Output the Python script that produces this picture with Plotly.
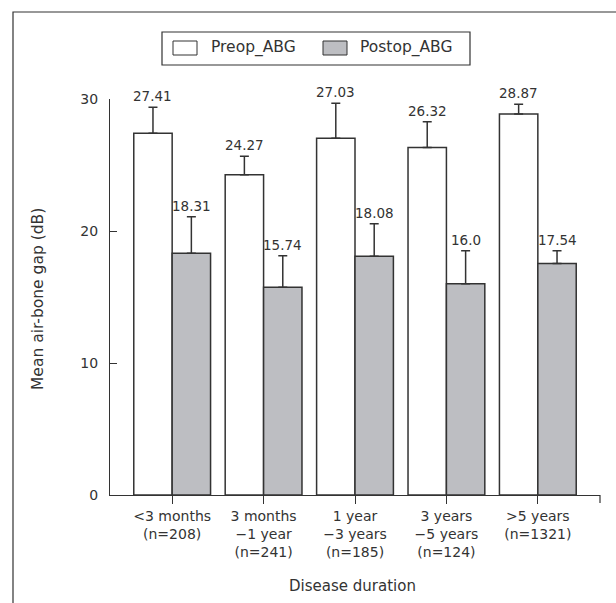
import plotly.graph_objects as go

# Disease-duration groups and mean air-bone gap (dB) with SD error
categories = [
    "&lt;3 months<br>(n=208)",
    "3 months<br>\u22121 year<br>(n=241)",
    "1 year<br>\u22123 years<br>(n=185)",
    "3 years<br>\u22125 years<br>(n=124)",
    "&gt;5 years<br>(n=1321)",
]
preop_abg = [27.41, 24.27, 27.03, 26.32, 28.87]
postop_abg = [18.31, 15.74, 18.08, 16.0, 17.54]
preop_err = [1.96, 1.39, 2.64, 1.96, 0.73]
postop_err = [2.77, 2.39, 2.47, 2.51, 0.97]
y_ticks = [0, 10, 20, 30]

FONT = "DejaVu Sans"
INK = "#333333"
GREY = "#bdbec2"

W, H = 616, 603
L, R, T, B = 110, 600, 99, 495  # plot area in pixels


def px(x):
    return (x - L) / (R - L)


def py(y):
    return (B - y) / (B - T)


fig = go.Figure()
series = [
    ("Preop_ABG", preop_abg, preop_err, "white"),
    ("Postop_ABG", postop_abg, postop_err, GREY),
]
for name, vals, errs, color in series:
    fig.add_trace(go.Bar(
        name=name, x=categories, y=vals,
        marker=dict(color=color, line=dict(color=INK, width=1.5)),
        error_y=dict(type="data", symmetric=False, array=errs,
                     arrayminus=[0] * len(errs), color=INK,
                     thickness=1.5, width=4.5),
        showlegend=False,
    ))

# value labels above the error bars
group_w = 0.84
bar_w = group_w / 2
annotations = []
for k, (name, vals, errs, color) in enumerate(series):
    off = -bar_w / 2 if k == 0 else bar_w / 2
    for i, (v, e) in enumerate(zip(vals, errs)):
        annotations.append(dict(
            x=i + off, y=v + e, xref="x", yref="y", text=str(v),
            showarrow=False, yanchor="bottom", xanchor="center", yshift=1,
            font=dict(family=FONT, size=13.5, color=INK),
        ))

# axis titles
annotations.append(dict(
    x=px(352), y=py(586), xref="paper", yref="paper",
    text="Disease duration", showarrow=False,
    xanchor="center", yanchor="middle",
    font=dict(family=FONT, size=15, color=INK),
))
annotations.append(dict(
    x=px(38), y=py(299), xref="paper", yref="paper",
    text="Mean air-bone gap (dB)", showarrow=False, textangle=-90,
    xanchor="center", yanchor="middle",
    font=dict(family=FONT, size=15.5, color=INK),
))

# legend drawn as a boxed key
legend_items = [("Preop_ABG", "white", 173, 209), ("Postop_ABG", GREY, 323, 358)]
shapes = [
    dict(type="rect", xref="paper", yref="paper",
         x0=px(162), x1=px(470), y0=py(32), y1=py(65),
         line=dict(color=INK, width=1.2), fillcolor="white"),
]
for label, color, sx, tx in legend_items:
    shapes.append(dict(type="rect", xref="paper", yref="paper",
                       x0=px(sx), x1=px(sx + 24), y0=py(41), y1=py(55),
                       line=dict(color=INK, width=1), fillcolor=color))
    annotations.append(dict(
        x=px(tx), y=py(48), xref="paper", yref="paper", text=label,
        showarrow=False, xanchor="left", yanchor="middle",
        font=dict(family=FONT, size=15.5, color=INK),
    ))

# outer frame around the figure
shapes.append(dict(type="rect", xref="paper", yref="paper",
                   x0=px(13), x1=px(630), y0=py(12), y1=py(620),
                   line=dict(color=INK, width=1.2)))
# closing tick at the right end of the x axis
shapes.append(dict(type="line", xref="paper", yref="paper",
                   x0=1, x1=1, y0=0, y1=py(503),
                   line=dict(color=INK, width=1.2)))

fig.update_layout(
    width=W, height=H,
    margin=dict(l=L, r=W - R, t=T, b=H - B),
    paper_bgcolor="white", plot_bgcolor="white",
    barmode="group", bargap=1 - group_w, bargroupgap=0,
    font=dict(family=FONT, color=INK),
    annotations=annotations, shapes=shapes,
    showlegend=False,
)
fig.update_xaxes(
    range=[-0.68, len(categories) - 0.32],
    showline=True, linecolor=INK, linewidth=1.2,
    ticks="outside", ticklen=8, tickcolor=INK, tickwidth=1.2,
    tickfont=dict(family=FONT, size=14, color=INK),
    showgrid=False, zeroline=False,
)
fig.update_yaxes(
    range=[0, 30], tickvals=y_ticks,
    showline=True, linecolor=INK, linewidth=1.2,
    ticks="inside", ticklen=7, tickcolor=INK, tickwidth=1.2,
    ticklabelstandoff=8,
    tickfont=dict(family=FONT, size=14, color=INK),
    showgrid=False, zeroline=False,
)

fig.write_html("out.html")
